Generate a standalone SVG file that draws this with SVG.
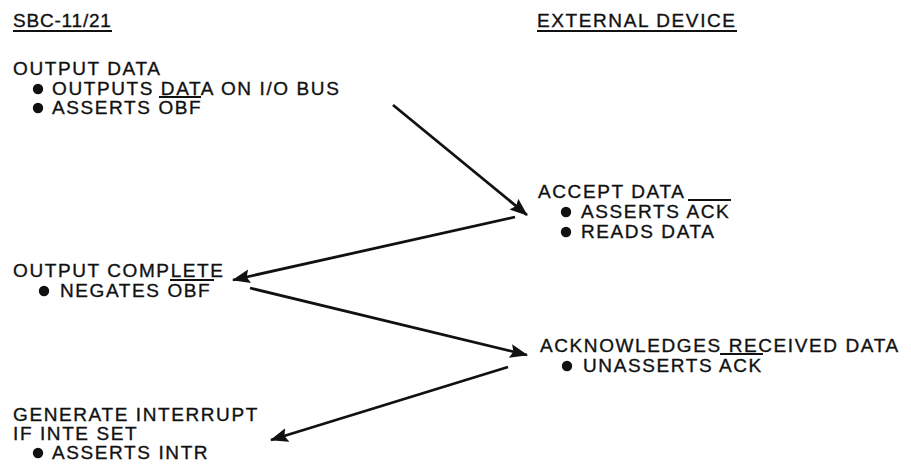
<svg xmlns="http://www.w3.org/2000/svg" width="911" height="476" viewBox="0 0 911 476">
<defs>
<marker id="ah" markerUnits="userSpaceOnUse" markerWidth="20" markerHeight="16" refX="17" refY="7" orient="auto">
<path d="M0,0 L18,7 L0,14 L3,7 Z" fill="#111"/>
</marker>
<style>
text{font-family:"Liberation Sans",Arial,sans-serif;font-size:19px;letter-spacing:1.6px;fill:#111;stroke:#111;stroke-width:0.35}
.b{fill:#111}
.rule{stroke:#111;stroke-width:1.8}
.conn{stroke:#111;stroke-width:2.8;fill:none;marker-end:url(#ah)}
</style>
</defs>
<rect width="911" height="476" fill="#fff"/>
<g id="hdr-sbc">
<text x="13" y="27" style="letter-spacing:0.8px">SBC-11/21</text>
<line class="rule" x1="13" y1="31" x2="112" y2="31"/>
</g>
<g id="hdr-ext">
<text x="537" y="27">EXTERNAL DEVICE</text>
<line class="rule" x1="537" y1="31" x2="737" y2="31"/>
</g>
<g id="output-data">
<text x="13" y="75">OUTPUT DATA</text>
<circle class="b" cx="38" cy="89" r="5.2"/>
<text x="52" y="95">OUTPUTS DATA ON I/O BUS</text>
<circle class="b" cx="38" cy="108" r="5.2"/>
<text x="52" y="114">ASSERTS OBF</text>
<line class="rule" x1="159" y1="97" x2="201" y2="97"/>
</g>
<g id="accept-data">
<text x="538" y="198">ACCEPT DATA</text>
<line class="rule" x1="688" y1="200" x2="731" y2="200"/>
<circle class="b" cx="566" cy="212" r="5.2"/>
<text x="581" y="218">ASSERTS ACK</text>
<circle class="b" cx="566" cy="232" r="5.2"/>
<text x="581" y="238">READS DATA</text>
</g>
<g id="output-complete">
<text x="13" y="277">OUTPUT COMPLETE</text>
<line class="rule" x1="170" y1="280" x2="214" y2="280"/>
<circle class="b" cx="44" cy="291" r="5.2"/>
<text x="60" y="297">NEGATES OBF</text>
</g>
<g id="ack-received">
<text x="540" y="352">ACKNOWLEDGES RECEIVED DATA</text>
<line class="rule" x1="720" y1="354" x2="763" y2="354"/>
<circle class="b" cx="567" cy="366" r="5.2"/>
<text x="583" y="372">UNASSERTS ACK</text>
</g>
<g id="gen-interrupt">
<text x="13" y="421">GENERATE INTERRUPT</text>
<text x="13" y="440">IF INTE SET</text>
<circle class="b" cx="38" cy="453" r="5.2"/>
<text x="52" y="459">ASSERTS INTR</text>
</g>
<g id="connectors">
<line class="conn" x1="393" y1="105" x2="527" y2="215"/>
<line class="conn" x1="515" y1="217" x2="233" y2="280"/>
<line class="conn" x1="250" y1="288" x2="527" y2="355"/>
<line class="conn" x1="508" y1="367" x2="271" y2="440"/>
</g>
</svg>
